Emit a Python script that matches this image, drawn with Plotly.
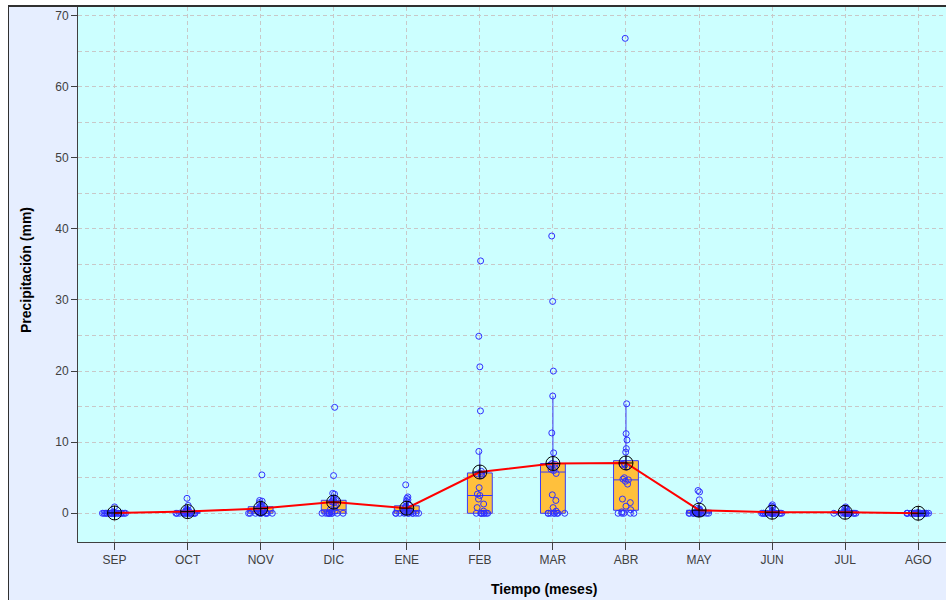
import numpy as np
import plotly.graph_objects as go

# ---------------- data ----------------
months = ["SEP", "OCT", "NOV", "DIC", "ENE", "FEB", "MAR", "ABR", "MAY", "JUN", "JUL", "AGO"]

sep = [0.0] * 22 + [0.1, 0.2, 0.9]
oct_ = [0.0] * 14 + [0.1, 0.1, 0.2, 0.2, 0.3, 0.3, 0.4, 0.5, 0.6, 1.1, 2.1]
nov = [0.0] * 10 + [0.1, 0.2, 0.3, 0.4, 0.5, 0.6, 0.7, 0.8, 0.9, 1.0, 1.1, 1.5, 1.7, 1.8, 5.4]
dic = [0.0] * 10 + [0.2, 0.3, 0.5, 0.8, 1.2, 1.5, 1.6, 1.7, 1.8, 1.9, 2.1, 2.7, 2.8, 5.3, 14.9]
ene = [0.0] * 10 + [0.1, 0.2, 0.3, 0.4, 0.5, 0.6, 0.8, 0.9, 1.0, 1.2, 1.7, 1.9, 2.1, 2.3, 4.0]
feb = [0.0] * 8 + [0.3, 0.8, 1.3, 2.0, 2.5, 2.7, 3.6, 5.3, 5.5, 5.55, 5.6, 5.9,
                   8.7, 14.4, 20.6, 24.9, 35.5]
mar = [0.0] * 8 + [0.3, 0.8, 1.8, 2.6, 5.6, 6.0, 6.2, 6.4, 6.6, 6.8, 6.9, 7.0,
                   8.5, 11.3, 16.5, 20.0, 29.8, 39.0]
abr = [0.0] * 5 + [0.2, 0.5, 1.0, 1.5, 2.0, 4.1, 4.5, 4.7, 4.8, 5.0, 6.5, 6.8, 6.9, 7.0,
                   8.6, 9.1, 10.3, 11.2, 15.4, 66.8]
may = [0.0] * 14 + [0.1, 0.1, 0.2, 0.3, 0.4, 0.5, 0.6, 0.7, 1.9, 3.0, 3.2]
jun = [0.0] * 19 + [0.1, 0.2, 0.3, 0.9, 1.0, 1.2]
jul = [0.0] * 17 + [0.1, 0.2, 0.2, 0.3, 0.5, 0.6, 0.7, 0.9]
ago = [0.0] * 24 + [0.1]

monthly = [sep, oct_, nov, dic, ene, feb, mar, abr, may, jun, jul, ago]
y_ticks = [0, 10, 20, 30, 40, 50, 60, 70]

# ---------------- figure ----------------
means = [float(np.mean(v)) for v in monthly]
box_x, box_y = [], []
for m, vals in zip(months, monthly):
    box_x += [m] * len(vals)
    box_y += vals

FONT = "Liberation Sans, Arial, sans-serif"
W, H = 946, 600
ML, MT, MB = 78, 7, 58
PW = W - ML
PH = H - MT - MB


def px_x(p):
    return (p - ML) / PW


def px_y(p):
    return (H - MB - p) / PH


fig = go.Figure()
fig.add_trace(go.Box(
    x=box_x, y=box_y,
    boxpoints="all", jitter=1.0, pointpos=0,
    width=0.34, whiskerwidth=0,
    fillcolor="#FFC03C",
    line=dict(color="#3B3BF5", width=1),
    marker=dict(symbol="circle-open", size=6, color="#3030FF",
                line=dict(width=1, color="#3030FF")),
    showlegend=False,
))
fig.add_trace(go.Scatter(
    x=months, y=means, mode="lines+markers",
    line=dict(color="#FF0000", width=2),
    marker=dict(symbol="circle-cross-open", size=14, color="#000000",
                line=dict(width=1, color="#000000")),
    showlegend=False,
))

shapes = [
    # white outside strips
    dict(type="rect", xref="paper", yref="paper", x0=px_x(0), x1=px_x(8),
         y0=px_y(600), y1=px_y(0), fillcolor="white", line=dict(width=0), layer="below"),
    dict(type="rect", xref="paper", yref="paper", x0=px_x(0), x1=1.0,
         y0=px_y(5), y1=px_y(0), fillcolor="white", line=dict(width=0), layer="below"),
    # outer border lines
    dict(type="line", xref="paper", yref="paper", x0=px_x(8.5), x1=px_x(8.5),
         y0=px_y(5), y1=px_y(600), line=dict(color="#303030", width=1)),
    dict(type="line", xref="paper", yref="paper", x0=px_x(8), x1=1.0,
         y0=px_y(6), y1=px_y(6), line=dict(color="#303030", width=2)),
]

annotations = [
    dict(text="<b>Precipitación (mm)</b>", xref="paper", yref="paper",
         x=px_x(26), y=px_y(270), textangle=-90, showarrow=False,
         xanchor="center", yanchor="middle",
         font=dict(family=FONT, size=14, color="#000000")),
    dict(text="<b>Tiempo (meses)</b>", xref="paper", yref="paper",
         x=px_x(544), y=px_y(589), showarrow=False,
         xanchor="center", yanchor="middle",
         font=dict(family=FONT, size=14, color="#000000")),
]

grid_col = "#C8C8C8"
fig.update_layout(
    width=W, height=H,
    margin=dict(l=ML, r=0, t=MT, b=MB, pad=0),
    paper_bgcolor="#E6EEFF",
    plot_bgcolor="#CCFFFF",
    font=dict(family=FONT, size=12, color="#404040"),
    shapes=shapes,
    annotations=annotations,
    showlegend=False,
    xaxis=dict(
        type="category", categoryorder="array", categoryarray=months,
        range=[-0.5, 11.38],
        showline=True, linecolor="#404040", linewidth=1,
        ticks="outside", ticklen=7, tickcolor="#404040", tickwidth=1,
        showgrid=True, gridcolor=grid_col, griddash="4px,3px", gridwidth=1,
        tickfont=dict(family=FONT, size=12, color="#404040"),
        zeroline=False, fixedrange=True,
    ),
    yaxis=dict(
        range=[-4.04, 71.21],
        tickvals=y_ticks,
        showline=True, linecolor="#404040", linewidth=1,
        ticks="outside", ticklen=6, tickcolor="#404040", tickwidth=1,
        showgrid=True, gridcolor=grid_col, griddash="4px,3px", gridwidth=1,
        minor=dict(dtick=5, tick0=0, showgrid=True, gridcolor=grid_col,
                   griddash="4px,3px", gridwidth=1, ticks=""),
        tickfont=dict(family=FONT, size=12, color="#404040"),
        zeroline=False, fixedrange=True,
    ),
)

fig.write_html("out.html", config={"displayModeBar": False},
               post_script="document.body.style.margin='0';document.body.style.overflow='hidden';")
